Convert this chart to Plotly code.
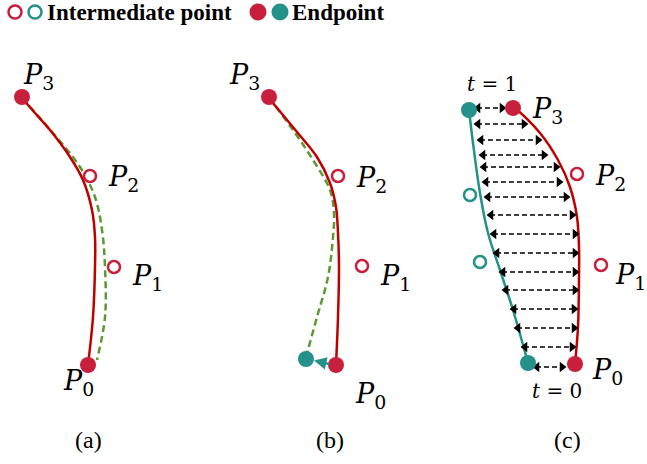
import plotly.graph_objects as go

RED = "#C8203C"
LINE_RED = "#C00000"
TEAL = "#24918A"
GREEN = "#5B9A33"

# ---------- panel (a) ----------
a_red_x = [22, 35, 50, 70, 83, 92, 95, 95, 93, 88]
a_red_y = [98, 113, 130, 157, 180, 210, 237, 267, 317, 365]
a_green_x = [22, 53, 80, 95, 102, 105, 105, 97]
a_green_y = [98, 133, 167, 197, 230, 267, 317, 360]
a_end_x = [22, 88]
a_end_y = [97, 365]
a_mid_x = [90, 114]
a_mid_y = [176, 267]

# ---------- panel (b) ----------
b_red_x = [269, 273, 297, 317, 330, 336, 338, 339, 338, 336]
b_red_y = [98, 103, 132, 157, 183, 207, 233, 267, 317, 365]
b_green_x = [269, 273, 293, 313, 330, 334, 333, 328, 317, 306]
b_green_y = [98, 103, 130, 160, 190, 213, 237, 277, 317, 357]
b_end_x = [269, 336]
b_end_y = [97, 365]
b_mid_x = [338, 362]
b_mid_y = [176, 266]
b_teal_end_x = [306]
b_teal_end_y = [359]

# ---------- panel (c) ----------
c_red_x = [513, 517, 540, 558, 570, 577, 579, 579, 578, 575]
c_red_y = [108, 110, 133, 160, 187, 217, 247, 277, 327, 364]
c_teal_x = [469, 473, 480, 488, 500, 513, 528]
c_teal_y = [110, 143, 193, 233, 270, 310, 363]
c_end_x = [513, 575]
c_end_y = [108, 364]
c_mid_x = [577, 601]
c_mid_y = [174, 265]
c_teal_end_x = [469, 528]
c_teal_end_y = [110, 363]
c_teal_mid_x = [470, 480]
c_teal_mid_y = [195, 262]

arrow_y = [108, 124, 140, 155, 167, 182, 197, 215, 234, 253, 272, 290, 309, 328, 347, 367]
arrow_xl = [474, 474, 477, 479, 480, 482, 484, 487, 490, 493, 499, 502, 510, 514, 521, 533]
arrow_xr = [506, 528, 542, 548, 560, 563, 570, 576, 579, 579, 579, 579, 578, 578, 576, 566]

# ---------- labels ----------
labels = [
    ("<i>P</i><sub>3</sub>", 38, 76), ("<i>P</i><sub>2</sub>", 123, 178),
    ("<i>P</i><sub>1</sub>", 147, 277), ("<i>P</i><sub>0</sub>", 78, 382),
    ("<i>P</i><sub>3</sub>", 244, 76), ("<i>P</i><sub>2</sub>", 371, 179),
    ("<i>P</i><sub>1</sub>", 395, 277), ("<i>P</i><sub>0</sub>", 370, 395),
    ("<i>P</i><sub>3</sub>", 547, 110), ("<i>P</i><sub>2</sub>", 610, 177),
    ("<i>P</i><sub>1</sub>", 630, 276), ("<i>P</i><sub>0</sub>", 607, 371),
]
t_labels = [("<i>t</i> = 1", 492, 84), ("<i>t</i> = 0", 557, 391)]
panel_labels = [("(a)", 88, 440), ("(b)", 330, 440), ("(c)", 567, 440)]

fig = go.Figure()

def line(x, y, color, width=2.5, dash=None):
    fig.add_trace(go.Scatter(x=x, y=y, mode="lines",
                             line=dict(color=color, width=width, dash=dash, shape="spline", smoothing=1.0),
                             hoverinfo="skip", showlegend=False))

def pts(x, y, color, filled=True, size=16, osize=12):
    if filled:
        m = dict(color=color, size=size, line=dict(width=0))
    else:
        m = dict(color="white", size=osize, line=dict(color=color, width=2.5))
    fig.add_trace(go.Scatter(x=x, y=y, mode="markers", marker=m,
                             hoverinfo="skip", showlegend=False))

# curves
line(a_green_x, a_green_y, GREEN, 2.5, "7px,4px")
line(a_red_x, a_red_y, LINE_RED, 2.5)
line(b_green_x, b_green_y, GREEN, 2.5, "7px,4px")
line(b_red_x, b_red_y, LINE_RED, 2.5)
line(c_red_x, c_red_y, LINE_RED, 2.5)
line(c_teal_x, c_teal_y, TEAL, 2.5)

# dashed double arrows in (c)
ax, ay = [], []
for yv, xl, xr in zip(arrow_y, arrow_xl, arrow_xr):
    ax += [xl + 3, xr - 3, None]
    ay += [yv, yv, None]
fig.add_trace(go.Scatter(x=ax, y=ay, mode="lines",
                         line=dict(color="black", width=1.6, dash="5px,3px"),
                         hoverinfo="skip", showlegend=False))
fig.add_trace(go.Scatter(x=[v + 4 for v in arrow_xl], y=arrow_y, mode="markers",
                         marker=dict(symbol="triangle-left", size=9, color="black", line=dict(width=0)),
                         hoverinfo="skip", showlegend=False))
fig.add_trace(go.Scatter(x=[v - 4 for v in arrow_xr], y=arrow_y, mode="markers",
                         marker=dict(symbol="triangle-right", size=9, color="black", line=dict(width=0)),
                         hoverinfo="skip", showlegend=False))

# points
pts(a_mid_x, a_mid_y, RED, False)
pts(a_end_x, a_end_y, RED, True)
pts(b_mid_x, b_mid_y, RED, False)
pts(b_end_x, b_end_y, RED, True)
pts(b_teal_end_x, b_teal_end_y, TEAL, True)
pts(c_mid_x, c_mid_y, RED, False)
pts(c_teal_mid_x, c_teal_mid_y, TEAL, False)
pts(c_end_x, c_end_y, RED, True)
pts(c_teal_end_x, c_teal_end_y, TEAL, True)

# legend-like header
pts([15], [12], RED, False, osize=13)
pts([35], [12], TEAL, False, osize=13)
pts([258], [12], RED, True, size=17)
pts([280], [12], TEAL, True, size=17)

annotations = []
annotations.append(dict(x=45, y=12, text="<b>Intermediate point</b>", showarrow=False,
                        xanchor="left", yanchor="middle",
                        font=dict(family="Liberation Serif", size=23, color="black")))
annotations.append(dict(x=290, y=12, text="<b>Endpoint</b>", showarrow=False,
                        xanchor="left", yanchor="middle",
                        font=dict(family="Liberation Serif", size=23, color="black")))
for txt, x, y in labels:
    annotations.append(dict(x=x, y=y, text=txt, showarrow=False, xanchor="center", yanchor="middle",
                            font=dict(family="DejaVu Serif", size=27, color="black")))
for txt, x, y in t_labels:
    annotations.append(dict(x=x, y=y, text=txt, showarrow=False, xanchor="center", yanchor="middle",
                            font=dict(family="DejaVu Serif", size=20, color="black")))
for txt, x, y in panel_labels:
    annotations.append(dict(x=x, y=y, text=txt, showarrow=False, xanchor="center", yanchor="middle",
                            font=dict(family="Liberation Serif", size=24, color="black")))
# small displacement arrow in (b)
annotations.append(dict(x=314, y=360.5, ax=331, ay=364.5, xref="x", yref="y", axref="x", ayref="y",
                        text="", showarrow=True, arrowhead=2, arrowsize=1, arrowwidth=2.5,
                        arrowcolor=TEAL))

fig.update_layout(
    width=647, height=464, autosize=False,
    margin=dict(l=0, r=0, t=0, b=0),
    paper_bgcolor="white", plot_bgcolor="white",
    xaxis=dict(range=[0, 647], visible=False, fixedrange=True),
    yaxis=dict(range=[464, 0], visible=False, fixedrange=True),
    annotations=annotations,
    showlegend=False,
)

fig.write_html("out.html")
